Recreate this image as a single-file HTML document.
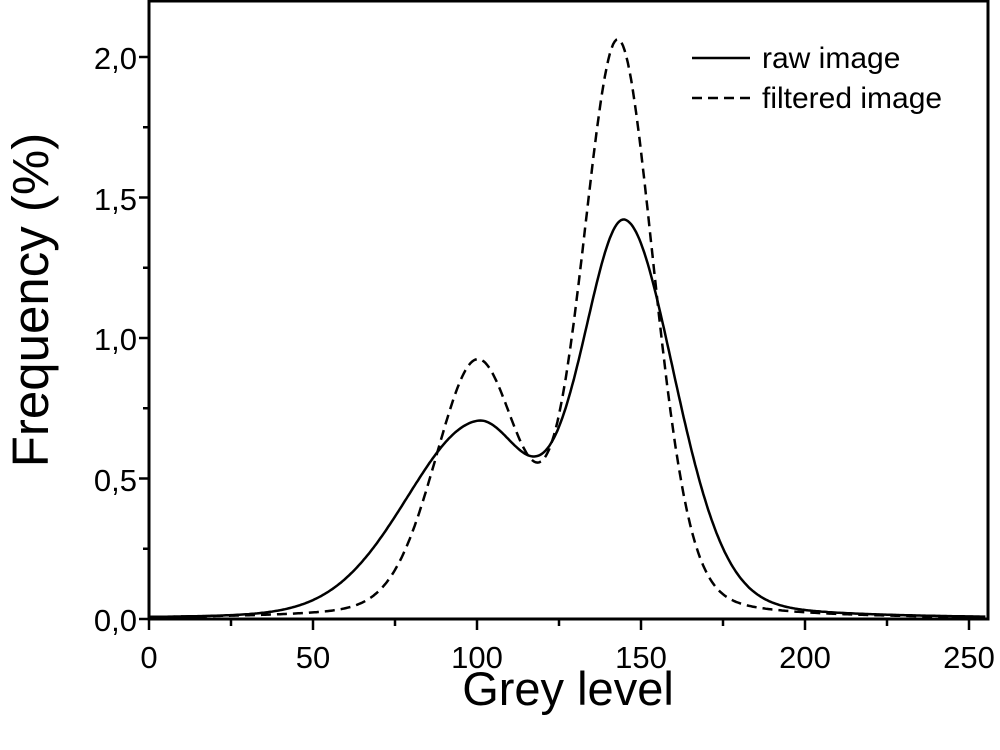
<!DOCTYPE html><html><head><style>body{margin:0;background:#fff}svg{display:block}text{font-family:"Liberation Sans",Arial,sans-serif;fill:#000}</style></head><body>
<svg id="s" width="1000" height="750" viewBox="0 0 1000 750">
<rect x="149" y="1" width="839" height="618" fill="none" stroke="#000" stroke-width="3"/>
<g id="ticks" stroke="#000" stroke-width="2.5"></g>
<g font-size="31" text-anchor="end">
<text x="137" y="631">0,0</text><text x="137" y="491">0,5</text><text x="137" y="350">1,0</text><text x="137" y="210">1,5</text><text x="137" y="69">2,0</text></g>
<g font-size="31" text-anchor="middle">
<text x="149" y="668">0</text><text x="313" y="668">50</text><text x="477" y="668">100</text><text x="641" y="668">150</text><text x="805" y="668">200</text><text x="969" y="668">250</text></g>
<text x="568" y="705" font-size="47" text-anchor="middle">Grey level</text>
<text transform="translate(48,300) rotate(-90)" font-size="51" text-anchor="middle">Frequency (%)</text>
<line x1="692" y1="58" x2="750" y2="58" stroke="#000" stroke-width="2.5"/>
<line x1="692" y1="98" x2="750" y2="98" stroke="#000" stroke-width="2.5" stroke-dasharray="10,6"/>
<text x="762" y="68" font-size="30">raw image</text>
<text x="762" y="108" font-size="30">filtered image</text>
<path id="raw" fill="none" stroke="#000" stroke-width="2.5"/>
<path id="fil" fill="none" stroke="#000" stroke-width="2.5" stroke-dasharray="10,6"/>
</svg>
<script>
function pv(x,c,A,s,e){var g=Math.exp(-(x-c)*(x-c)/(2*s*s));var h=s*1.177;var l=1/(1+((x-c)/h)*((x-c)/h));return A*((1-e)*g+e*l);}
function sp(x,c,A,sl,sr,e){return pv(x,c,A,x<c?sl:sr,e);}
function X(v){return 149+v*3.28}function Y(v){return 619-v*281}
function path(f){var d="";for(var x=0;x<=255;x+=0.5){d+=(x?"L":"M")+X(x).toFixed(1)+","+Y(f(x)).toFixed(1);}return d;}
document.getElementById("raw").setAttribute("d",path(function(x){return sp(x,100,0.67,22,16,0.1)+sp(x,145,1.40,13.5,15.5,0.2);}));
document.getElementById("fil").setAttribute("d",path(function(x){return pv(x,100,0.89,13,0.2)+pv(x,143,2.04,11,0.2);}));
var t="";for(var v=0;v<=250;v+=25){var x=X(v);t+='<line x1="'+x+'" y1="619" x2="'+x+'" y2="'+(v%50?626:630)+'"/>';}
for(var k=0;k<=8;k++){var y=Y(k*0.25);t+='<line x1="149" y1="'+y+'" x2="'+(k%2?143:139)+'" y2="'+y+'"/>';}
document.getElementById("ticks").innerHTML=t;
</script></body></html>
